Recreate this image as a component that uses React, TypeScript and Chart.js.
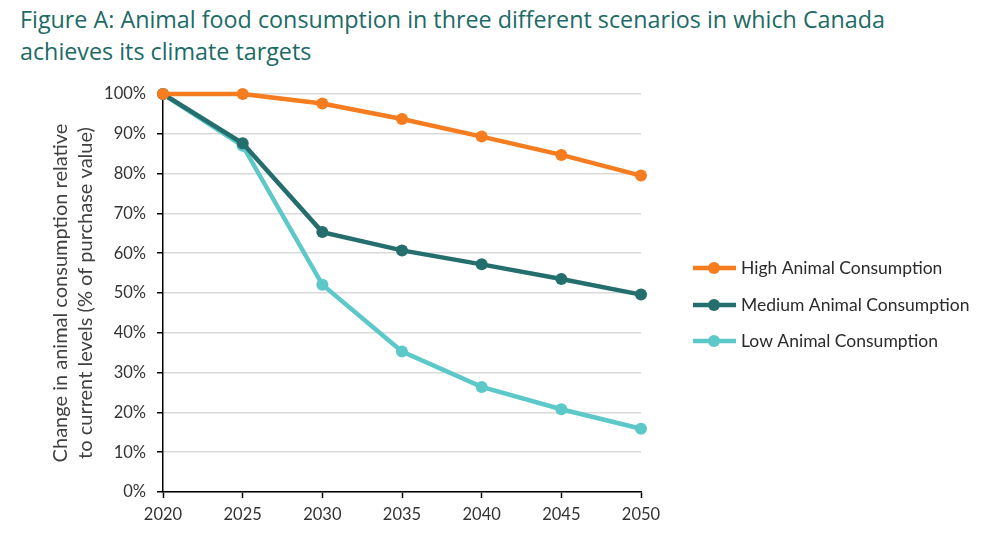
import React, { useEffect, useRef } from "react";
import { Chart, registerables } from "chart.js";

Chart.register(...registerables);

const titleLines = [
  "Figure A: Animal food consumption in three different scenarios in which Canada",
  "achieves its climate targets",
];
const years = ["2020", "2025", "2030", "2035", "2040", "2045", "2050"];
const highValues = [100, 100, 97.6, 93.7, 89.3, 84.7, 79.5];
const mediumValues = [100, 87.6, 65.3, 60.7, 57.2, 53.5, 49.6];
const lowValues = [100, 87.0, 52.1, 35.3, 26.4, 20.8, 15.9];
const seriesNames = ["High Animal Consumption", "Medium Animal Consumption", "Low Animal Consumption"];
const seriesColors = ["#F57C1F", "#246F6D", "#5CC8C8"];
const yAxisTitle = ["Change in animal consumption relative", "to current levels (% of purchase value)"];

const FONT = "Lato, 'Open Sans', sans-serif";

const legendPlugin = {
  id: "customLegend",
  afterDraw(chart: any) {
    const ctx = chart.ctx;
    const x0 = 693;
    const ys = [268, 305, 341];
    ctx.save();
    chart.data.datasets.forEach((ds: any, i: number) => {
      const y = ys[i];
      ctx.strokeStyle = ds.borderColor;
      ctx.lineWidth = 4.5;
      ctx.beginPath();
      ctx.moveTo(x0, y);
      ctx.lineTo(x0 + 43, y);
      ctx.stroke();
      ctx.fillStyle = ds.borderColor;
      ctx.beginPath();
      ctx.arc(x0 + 21, y, 6, 0, Math.PI * 2);
      ctx.fill();
      ctx.fillStyle = "#2b2b2b";
      ctx.font = `17.5px ${FONT}`;
      ctx.textBaseline = "middle";
      ctx.textAlign = "left";
      ctx.fillText(ds.label, x0 + 48, y);
    });
    ctx.restore();
  },
};

export default function App() {
  const canvasRef = useRef<HTMLCanvasElement | null>(null);

  useEffect(() => {
    if (!canvasRef.current) return;
    const values = [highValues, mediumValues, lowValues];
    const chart = new Chart(canvasRef.current, {
      type: "line",
      data: {
        labels: years,
        datasets: values.map((v, i) => ({
          label: seriesNames[i],
          data: v,
          borderColor: seriesColors[i],
          backgroundColor: seriesColors[i],
          borderWidth: 4.5,
          pointRadius: 6,
          pointHoverRadius: 6,
          pointBorderWidth: 0,
          tension: 0,
          clip: false as any,
        })),
      },
      options: {
        animation: false,
        responsive: false,
        maintainAspectRatio: false,
        layout: { padding: { left: 48, right: 359, top: 94, bottom: 0 } },
        plugins: {
          legend: { display: false },
          tooltip: { enabled: false },
          title: { display: false },
        },
        scales: {
          x: {
            type: "category",
            offset: false,
            grid: {
              display: true,
              drawOnChartArea: false,
              drawTicks: true,
              tickLength: 6,
              tickColor: "#000",
              tickWidth: 1.5,
            },
            border: { display: true, color: "#000", width: 1.5 },
            ticks: {
              color: "#333",
              font: { family: FONT, size: 16.5 },
              padding: 7,
              maxRotation: 0,
              autoSkip: false,
            },
            afterFit(scale: any) {
              scale.height = 61;
            },
          },
          y: {
            min: 0,
            max: 100,
            ticks: {
              stepSize: 10,
              color: "#333",
              font: { family: FONT, size: 16.5 },
              padding: 11,
              callback: (v: any) => `${v}%`,
            },
            grid: {
              color: "#d9d9d9",
              lineWidth: 1.5,
              drawTicks: true,
              tickLength: 6,
              tickColor: "#000",
              tickWidth: 1.5,
            },
            border: { display: true, color: "#000", width: 1.5 },
            title: {
              display: true,
              text: yAxisTitle,
              color: "#404040",
              font: { family: FONT, size: 20, lineHeight: 1.25 },
              padding: 0,
            },
            afterFit(scale: any) {
              scale.width = 163 - 48;
            },
          },
        },
      },
      plugins: [legendPlugin],
    });
    return () => chart.destroy();
  }, []);

  return (
    <div
      style={{
        position: "fixed",
        left: 0,
        top: 0,
        width: 1000,
        height: 553,
        background: "#fff",
        overflow: "hidden",
      }}
    >
      <div
        style={{
          position: "absolute",
          left: 20,
          top: 3,
          fontFamily: "'Open Sans', sans-serif",
          fontSize: 23.3,
          lineHeight: "32px",
          color: "#1D6A66",
          whiteSpace: "nowrap",
        }}
      >
        {titleLines.map((t) => (
          <div key={t}>{t}</div>
        ))}
      </div>
      <canvas ref={canvasRef} width={1000} height={553} style={{ position: "absolute", left: 0, top: 0 }} />
    </div>
  );
}
